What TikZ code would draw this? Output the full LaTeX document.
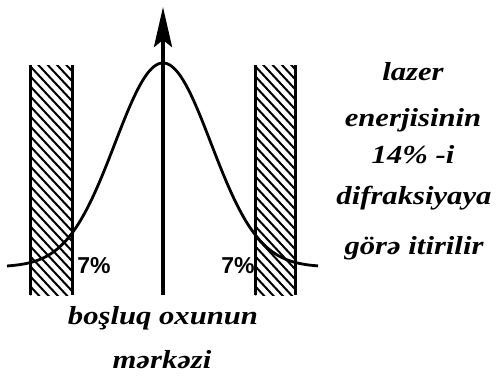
\documentclass[tikz,border=0pt]{standalone}
\usepackage{fontspec}
\setmainfont{Liberation Serif}
\newfontfamily\handfont[FakeStretch=1.18]{Liberation Serif}
\newfontfamily\numfont{Liberation Sans}
\usetikzlibrary{arrows.meta}
\tikzset{
  wall/.style={line width=3pt},
  hatch/.style={line width=2pt},
  lbl/.style={font=\fontsize{26}{29}\selectfont\handfont\bfseries\itshape, inner sep=0pt},
  pct/.style={font=\fontsize{23}{25}\selectfont\numfont\bfseries, inner sep=0pt},
}
\begin{document}
\begin{tikzpicture}[x=1pt,y=-1pt]
\useasboundingbox (0,0) rectangle (499,376);
% left wall
\begin{scope}
\clip (30,65) rectangle (72,295);
\foreach \k in {-6,...,24} { \draw[hatch] (30,66+\k*10) -- (72,111+\k*10); }
\end{scope}
\draw[wall] (30,65) -- (30,295);
\draw[wall] (72,65) -- (72,295);
% right wall
\begin{scope}
\clip (255,65) rectangle (295,295);
\foreach \k in {-6,...,24} { \draw[hatch] (255,66+\k*10) -- (295,109+\k*10); }
\end{scope}
\draw[wall] (255,65) -- (255,295);
\draw[wall] (295,65) -- (295,295);
% axis
\coordinate (base) at (163,295);
\coordinate (tip) at (163,7);
\draw[line width=4pt, -{Stealth[length=40pt,width=18pt,inset=7pt]}] (base) -- (tip);
% gaussian
\draw[line width=2.8pt] plot[domain=7:318, samples=160, smooth] (\x, {267-204*exp(-0.5*((\x-163)/48)^2)});
% labels
\node[pct] (pl) at (94,266) {7\%};
\node[pct] (pr) at (238,266) {7\%};
\node[lbl] (t1) at (413,72) {lazer};
\node[lbl] (t2) at (413,120) {enerjisinin};
\node[lbl] (t3) at (413,155) {14\% -i};
\node[lbl] (t4) at (414,198) {difraksiyaya};
\node[lbl] (t5) at (414,248) {görə itirilir};
\node[lbl] (b1) at (163,318) {boşluq oxunun};
\node[lbl] (b2) at (162,360) {mərkəzi};
\end{tikzpicture}
\end{document}
